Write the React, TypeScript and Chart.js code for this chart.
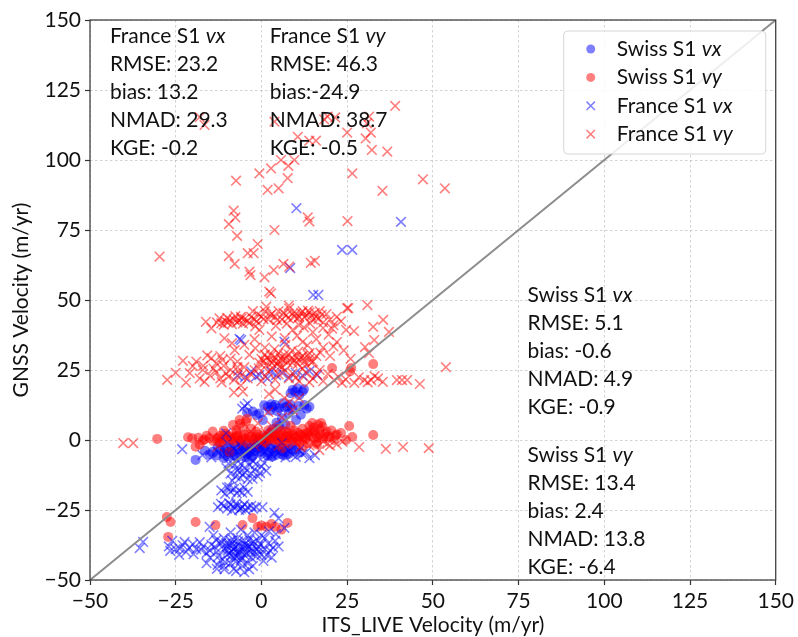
import { useEffect, useRef } from "react";
import { Chart, registerables } from "chart.js";

Chart.register(...registerables);

// Axis extent (m/yr), shared by both axes
const AXIS_MIN = -50;
const AXIS_MAX = 150;
const AXIS_STEP = 25;

const xTitle = "ITS_LIVE Velocity (m/yr)";
const yTitle = "GNSS Velocity (m/yr)";

// [ITS_LIVE, GNSS] velocity pairs, m/yr
const swissVx: [number, number][] = [
  [9.1, 17.9], [12, 17.3], [10.5, 18.5], [8.5, 16.7], [11, 16], [9.8, 17.2], [12.4, 18.1],
  [3.3, 11.9], [6.2, 13.1], [14, 11.9], [1.8, 11.9], [5.2, 11.4], [4, 12.5], [7.5, 12],
  [9, 11], [12.5, 12.5], [2.5, 10.5], [-1.5, 8.9], [-0.6, 9.5], [0.4, 7.1], [10.1, 7.1],
  [11.5, 9], [8, 9.5], [5.2, 4.8], [7, 5.5], [-3, -3], [-5, -4.5], [-4.2, 9.8], [-2.5, 10.2],
  [0.8, 12.4], [2.9, 12.8], [4.6, 10.3], [6.8, 11.6], [8.4, 12.7], [10.8, 12.1], [13.2, 11.2],
  [-14.2, -4.2], [-12, -3.5], [-11, -5], [-10, -4], [-9, -2.5], [-8, -5.5], [-7, -3.5],
  [-6.4, -4.8], [-5.5, -2], [-4, -5], [-3, -1.5], [-2, -4], [-1, -3], [0, -5], [1, -2],
  [2, -4.5], [3, -3], [4, -5.5], [5, -2.5], [6, -4], [7, -3], [8, -5], [9, -2], [10, -3.5],
  [-1, -1], [1.5, -0.5], [-19.2, -7.1], [-11, -6.5], [3, -6], [-6, -1], [-13, -5.5],
  [-9.5, -4.5], [-2.5, -5.5], [6.5, -5.5], [11, -4.5], [-16.5, -3.8], [-15, -5.2],
  [-12.8, -2.6], [-10.6, -3.1], [-8.6, -4.1], [-7.6, -2.2], [-5.2, -3.6], [-4.6, -6.1],
  [-3.4, -4.3], [-1.8, -2.4], [-0.4, -4.2], [0.6, -3.3], [1.8, -5.6], [2.6, -2.2],
  [3.8, -4.1], [4.6, -3.4], [5.8, -5.1], [7.4, -4.4], [8.6, -3.2], [-7.2, -6.3],
  [-9.8, -5.8], [-2.8, -6.2], [0.2, -1.6], [-1.2, -0.2], [1.2, 1.2], [2.4, 2.6], [3.2, 3.8],
  [4.4, 6.2], [6, 7.8], [-4.4, -2.8],
];

const swissVy: [number, number][] = [
  [-30.4, 0.4], [-21.4, 1], [-19.2, -2.4], [-17.1, -0.2], [-15.1, 0.6], [-14.2, 3],
  [-13, 0.5], [-12, 1.5], [-11, 3.3], [-10, 0], [-9, 1], [-8.3, 5.4], [-8, -0.5],
  [-7.4, 3.6], [-7, 1.5], [-6.4, 7.1], [-6, 0], [-5, 2], [-4.5, 6.6], [-4, -1],
  [-3.5, 1], [-3, 4], [-2, 0.5], [-1, 2], [0, 0], [0.5, 1.5], [1, -1], [2, 1],
  [3, 2.5], [3.5, 0], [4, 1.5], [5, -0.5], [5.5, 2], [6, 0.5], [7, 3], [7.5, -1],
  [8, 1.5], [9, 0], [9.5, 3.5], [10, 1], [11, -0.5], [11.5, 2], [12, 4], [13, 0.5],
  [13.5, 2.5], [14, 5], [14.8, 6.1], [15, 1], [15.5, 3], [16, -1], [16.5, 5.5],
  [17.4, 6.1], [17, 2], [18, 0.5], [19, 3], [20, 1], [21.2, 0], [22, 2], [23.2, 2.5],
  [24.7, 0], [25.6, 5], [26.5, 1.1], [32.6, 1.8], [12, -2], [6, -3], [-9.3, -4.3],
  [2, 3.5], [8.5, 5], [-1.5, 3], [4.5, 4], [-11.5, -1], [-16, 1.5],
  [-18.4, 0.8], [-16.6, 0.2], [-14, -0.4], [-12.6, 0.9], [-11.2, 0.3], [-9.6, 1.6],
  [-8.8, 0.2], [-7.8, 0.9], [-6.8, 0.1], [-5.6, 1.1], [-4.8, 0.4], [-3.8, 1.8], [-2.8, 0.2],
  [-1.6, 1.2], [-0.6, 0.6], [0.6, -0.4], [1.4, 0.8], [2.6, 0.1], [3.4, 1.2], [4.4, 0.4],
  [5.2, 1.4], [6.4, -0.2], [7.2, 1.1], [8.2, 0.3], [9.4, 1.7], [10.4, -0.6], [11, 1.2],
  [12.2, 0.9], [12.8, 2.2], [13.8, 1.4], [14.4, 3.3], [15.2, 4.4], [15.8, 2.1], [16.4, 0.6],
  [17, 3.8], [17.8, 4.8], [18.6, 2.2], [19.4, 1.2], [20.4, 3.4], [21.6, 1.6], [16.2, -1.6],
  [13.4, -1.2], [10.6, 2.6], [7.8, 2.4], [5.8, 3.3], [-10.4, 2.2], [-12.2, -0.8],
  [-20.2, 0.6], [-7.2, 2.6], [-6.2, 5.8], [-5.4, 4.6], [-4.2, 7.6], [-18, -1.6],
  [20.6, 25.7], [26.2, 25.7], [32.6, 27.1], [25.8, 24.5],
  [-27.6, -27.5], [-26.5, -29.3], [-19.2, -29.3], [-13.4, -30.4], [-5.5, -30.4],
  [-2.6, -27.9], [-1.1, -31], [1.4, -31], [2.9, -30], [5.8, -32], [7.6, -29.6],
  [-27.2, -34.6], [0, -30.5], [4, -31],
];

const franceVx: [number, number][] = [
  [-27, -38], [-25, -39], [-23, -37.5], [-21, -38.5], [-19, -39], [-17, -38], [-15, -39.5],
  [-26, -36], [-22, -40], [-18, -36.5], [-24, -41], [-20, -37.2], [-16, -40.4],
  [-23.8, -38.8], [-26.6, -39.6], [-19.8, -40.8], [-17.6, -39.2], [-22.4, -36.4],
  [-14, -34], [-13, -40], [-12, -37], [-12, -43], [-11, -35], [-11, -45], [-10, -38],
  [-10, -41], [-9, -33], [-9, -36], [-9, -44], [-8, -39], [-8, -42], [-8, -46], [-7, -35],
  [-7, -37.5], [-7, -40], [-6, -32], [-6, -38], [-6, -43], [-5, -36], [-5, -41], [-4, -34],
  [-4, -39], [-4, -44], [-3, -37], [-3, -42], [-2, -33], [-2, -40], [-1, -36], [-1, -38],
  [0, -41], [1, -35], [1, -39], [2, -37], [3, -42], [4, -36], [5, -38], [-13, -46],
  [-15, -42], [-16, -44], [-11, -39], [-9.5, -40.5], [-8.5, -37], [-7.5, -43.5],
  [-6.5, -40], [-5.5, -45], [-3.5, -35.5], [-2.5, -45], [0, -34], [-15.1, -31],
  [-13.6, -38.2], [-12.4, -41.4], [-11.6, -36.6], [-10.6, -43.6], [-9.8, -39.4],
  [-9.2, -37.8], [-8.8, -41.2], [-8.2, -35.6], [-7.8, -38.4], [-7.2, -41.8], [-6.8, -36.2],
  [-6.2, -39.4], [-5.8, -42.4], [-5.2, -38.6], [-4.8, -37.2], [-4.4, -40.6], [-3.8, -38.2],
  [-3.2, -40.2], [-2.8, -38.8], [-2.2, -36.4], [-1.6, -41.6], [-0.8, -39.8], [-0.2, -37.4],
  [0.6, -43.2], [1.6, -41], [2.6, -39.6], [-10.8, -46.2], [-7.4, -46.8], [-5, -47.2],
  [-12.8, -44.6], [-3.6, -46.2], [4.2, -33.6], [2.2, -32.6], [-14.6, -37.4], [-13.2, -35.8],
  [-10.2, -36.8], [-8.6, -39.8], [-6.6, -41], [-4.2, -37.8], [-1.2, -39], [3.4, -38.4],
  [3.8, -26], [6.7, -31.4], [0.3, -24], [5, -28], [-34.5, -36.4], [-35.5, -38.6],
  [-12.7, -24], [-11, -23.5], [-10, -24.5], [-9, -23], [-8, -24], [-7, -23.5], [-6, -24.5],
  [-5, -23], [-4, -24], [-3, -23.5], [-1.5, -24], [-9.5, -22.5], [-6.5, -25],
  [-11.8, -22.8], [-8.6, -25.2], [-7.4, -22.6], [-5.6, -24], [-4.6, -25], [-2.4, -24.6],
  [-11.7, -18], [-10, -17], [-9, -18.5], [-8, -17.5], [-6.5, -18], [-5, -17], [-4, -18.5],
  [-9.4, -16.8], [-7.2, -19], [-10.6, -19.2], [-5.6, -18.8],
  [-10.2, -10], [-9, -12], [-8, -9], [-7.5, -13], [-7, -11], [-6, -8.5], [-5.5, -12.5],
  [-5, -10], [-4, -14], [-3.5, -9], [-3, -12], [-2, -10.5], [-1, -13], [0, -9.5],
  [1.4, -11], [-8.5, -14.5], [-4.5, -7], [-2.5, -7.5], [-9.6, -8.4], [-6.6, -10.2],
  [-4.8, -11.6], [-1.6, -8.6], [-0.4, -11.8], [-6.2, -13.6], [-2.6, -13.8], [0.8, -8.2],
  [-10, -1], [-8, -3], [-6, -2], [-3, -4], [0, -2], [2, -6], [4, -3], [6, -1], [8, -4],
  [10, -6], [12, -5], [14, -6.5], [-23.1, -3.3], [-17.2, -5.4], [-10.3, 2.4],
  [-12.4, -4.6], [-9, -5.6], [-7, -4.4], [-4.4, -5.8], [-2, -2.6], [1, -4.2], [3, -5.2],
  [5, -4.6], [7, -6.2], [9, -5.2], [11, -3.6], [13, -4.4], [-14.6, -6.2], [15.6, -5.4],
  [-4.9, 12.1], [-4, 13], [-5.6, 11.2],
  [-5.9, 35.7], [6.7, 35.1], [-6.4, 36.1], [16.3, 23.2], [-0.6, 23.2], [1.8, 22],
  [4.3, 23.2], [6, 24], [8, 22.5], [10, 24], [-3, 24.5], [12, 23], [-7, 23], [14, 24.6],
  [2.8, 24.4], [-1.6, 22.6], [-4.8, 22.4],
  [10.2, 82.8], [40.7, 77.9], [23.5, 67.9], [26.5, 67.9], [8.4, 61.4], [15.1, 51.8],
  [16.6, 51.8],
];

const franceVy: [number, number][] = [
  // fast, sparse points
  [19.3, 115.5], [21.5, 115.2], [18.3, 114.5], [39, 119.3], [31.4, 115.5], [30.8, 113.1],
  [25, 109.8], [31.9, 109.8], [30.4, 107.7], [32.2, 103.6], [36.7, 103], [10.6, 108.3],
  [13.95, 106.9], [15.9, 106.9], [3.8, 113.7], [5.7, 100], [9.6, 100], [7.85, 97.9],
  [2.8, 97], [-0.6, 95.2], [-7.4, 92.6], [7.65, 93.5], [1.8, 89.3], [5, 89.9], [26.5, 95.2],
  [47.1, 93.1], [53.5, 89.9], [35.3, 89], [-8.1, 81.9], [-7.6, 79.5], [-9.5, 77.1],
  [-7.1, 72.9], [3.8, 75], [13.5, 79.5], [14, 78], [25.1, 78.2], [-1.1, 70], [-2.3, 66.7],
  [-9.5, 65.7], [-7.8, 62.9], [-29.7, 65.5], [-3.5, 60.1], [-3.2, 58.9], [0.9, 58.1],
  [3.6, 60.7], [6.4, 62.9], [14.4, 63.3], [15.6, 64], [2.3, 53], [-18, 115.3],
  [-16.6, 112.5], [-4, 66.7], [8.1, 61.9], [30.9, 48.2], [25, 47.1], [2.8, 52.4],
  // 40-48 m/yr band
  [-14.6, 39.9], [-13, 42], [-11.7, 41.7], [-10.5, 42.5], [-9.8, 41.9], [-8, 43], [-7, 42],
  [-6, 44], [-4.9, 43.2], [-4, 42.5], [-3, 44], [-2, 43], [-1, 45], [0, 44], [1, 46],
  [1.4, 47.6], [2, 43], [3, 45], [4, 44], [5, 46], [6, 43], [7.2, 44.6], [8.1, 47], [9, 45],
  [10.1, 45.2], [11, 44], [12, 46], [13, 44.5], [14, 45.5], [15, 43], [16, 44], [17, 46],
  [18, 42], [19, 45], [20, 43], [21, 41], [22, 44], [8, 48], [-2.5, 46], [25.3, 47.1],
  [35.5, 42.9], [32.6, 40.4], [24.7, 39.3], [27, 38.9], [-0.6, 39.3], [9.1, 39.3],
  [15, 38.5], [18, 40], [11, 41], [-16.2, 42.2], [-12.2, 43.4], [-11, 41.2], [-10, 43.6],
  [-9.2, 42.8], [-8.6, 41.4], [-7.6, 44.2], [-6.6, 42.6], [-5.4, 41.6], [-5.8, 43.4],
  [-3.6, 41.8], [-1.4, 42.4], [0.6, 43.2], [2.6, 44.6], [4.6, 42.8], [6.4, 45.4],
  [7.8, 43.6], [9.6, 44], [10.6, 43.4], [11.6, 45.4], [12.6, 43.8], [13.6, 46.2],
  [14.6, 44.4], [15.6, 45.4], [16.6, 43.2], [17.6, 44.8], [14.2, 41.6], [12.4, 40.2],
  [20.6, 39.8], [23.2, 42.4], [19.6, 37.6], [-1.8, 40.6], [4.2, 40.8], [7.4, 41.6],
  // 28-38 m/yr band
  [-10.8, 36.3], [-7.8, 32.1], [-3.5, 30.4], [-5, 34], [-2, 36], [1, 33], [3, 37], [5, 31],
  [7, 34], [9, 32], [12, 35], [14, 31], [16, 36], [18, 33], [20, 30], [22, 35], [24, 32],
  [26, 29], [37.2, 38.6], [32.9, 35.7], [31.4, 31], [30.2, 33.2], [-14.6, 29.2],
  [-13.2, 27.4], [-12, 30], [-9, 29], [-7, 28], [2.3, 28.6], [6.2, 28.6], [10.1, 29.8],
  [0, 29], [1, 30.5], [3, 27.5], [4, 29.5], [5, 28], [7, 29], [8, 30.5], [9, 27.5],
  [11, 28.5], [12, 30], [13, 27], [14, 29], [15, 28], [16, 30], [-22.9, 28.3], [-19, 28],
  [-17, 26.5], [-0.6, 27.6], [0.6, 28.2], [1.6, 29.4], [2.8, 30.2], [3.6, 28.2],
  [4.6, 27], [5.6, 29.2], [6.6, 30.4], [7.6, 27.6], [8.6, 29], [9.6, 28.4], [10.6, 27.2],
  [11.6, 29.6], [12.6, 28.2], [13.6, 30.4], [14.6, 27.6], [1.4, 26.6], [5.4, 26.2],
  [10.8, 31.6], [3.8, 32.4], [-1.8, 32.8], [6.8, 36.4], [10.4, 37.2], [13.4, 33.8],
  [17.2, 31.2], [21, 33.4], [-8.6, 34.6], [-11.4, 28.6], [-15.8, 30.2], [-20, 26.4],
  // 20-27 m/yr band
  [-20.9, 23.9], [-17.1, 25], [-16.6, 20.8], [-15, 23], [-14, 25.5], [-12, 22],
  [-10.3, 23.8], [-9, 25], [-8, 21.5], [-6, 23], [-5, 26], [-4, 22], [-2, 25], [0, 21],
  [2, 24.5], [4, 21.5], [6, 26], [8, 22], [9.1, 23.8], [11, 21], [13, 24], [15, 22],
  [17, 25], [18, 21], [21.2, 21.4], [23.5, 20.4], [27.1, 20.4], [30, 21.4], [32, 21.4],
  [34, 22], [39.5, 21.4], [42.5, 21.4], [46.2, 20], [53.8, 26], [41, 21.4], [-25, 24],
  [-27.5, 21.5], [-22, 20.5], [-18, 22], [-11, 26.5], [-7, 26], [-5.4, 17.3],
  [-13.2, 24.2], [-11.6, 20.6], [-9.6, 22.6], [-6.8, 24.6], [-3.2, 23.6], [-0.8, 25.6],
  [1, 22.8], [3.2, 25.8], [5, 23.4], [7, 24.8], [10, 22.2], [12, 25.4], [14, 20.6],
  [16, 23.6], [19.4, 23.6], [22.4, 22.6], [24.6, 21.6], [28.4, 22.4], [31, 20.6],
  [33, 22.8], [35.4, 20.8],
  [6.7, 15], [9.1, 10.7], [-8, 17], [-6, 19.5], [4, 18], [11, 15], [8.2, 13.6], [2.2, 16.4],
  // near-stagnant points
  [-40.3, -1.1], [-37.4, -1.1], [28.5, -2.5], [36.3, -3.2], [41.3, -2.5], [48.8, -2.9],
  [16.9, -3.6], [14, -2], [10, -1], [18, -0.5], [20, -2], [12, 0.5], [8, 2], [22, -1.5],
  [5, -2], [3, 5], [6, 8], [2, 10], [-1, 6], [-3, 3], [0, -1], [15.4, -1.2], [11.4, -2.6],
  [9, 1.4], [7, -1.6], [4, 0.6], [13, 1.8], [17.6, 1.2], [19.2, -1.4], [23.6, -0.6],
  [-2, -2.2], [-5.6, -1.4], [-8.4, 1.2], [1.2, 2.6], [-12.8, -2.4],
];

const legendLabels: [string, string][] = [
  ["Swiss S1 ", "vx"],
  ["Swiss S1 ", "vy"],
  ["France S1 ", "vx"],
  ["France S1 ", "vy"],
];

// Summary statistics printed on the plot
const franceVxStats = ["RMSE: 23.2", "bias: 13.2", "NMAD: 29.3", "KGE: -0.2"];
const franceVyStats = ["RMSE: 46.3", "bias:-24.9", "NMAD: 38.7", "KGE: -0.5"];
const swissVxStats = ["RMSE: 5.1", "bias: -0.6", "NMAD: 4.9", "KGE: -0.9"];
const swissVyStats = ["RMSE: 13.4", "bias: 2.4", "NMAD: 13.8", "KGE: -6.4"];

const FONT = 'Lato, "Open Sans", sans-serif';
const FONT_SIZE = 21;
const BLUE = "rgba(0, 0, 255, 0.5)";
const RED = "rgba(255, 0, 0, 0.5)";
const CIRCLE_R = 5;
const CROSS_R = 6.8;

const toPoints = (pairs: [number, number][]) => pairs.map(([x, y]) => ({ x, y }));

function drawRich(ctx: CanvasRenderingContext2D, x: number, y: number, parts: [string, string]) {
  let cx = x;
  parts.forEach((t, i) => {
    ctx.font = `${i === 1 ? "italic " : ""}${FONT_SIZE}px ${FONT}`;
    ctx.fillText(t, cx, y);
    cx += ctx.measureText(t).width;
  });
}

const overlayPlugin = {
  id: "overlay",
  afterDraw(chart: any) {
    const ctx: CanvasRenderingContext2D = chart.ctx;
    const a = chart.chartArea;
    const w = a.right - a.left;
    const h = a.bottom - a.top;
    ctx.save();

    // frame around the axes
    ctx.strokeStyle = "#333";
    ctx.lineWidth = 1.2;
    ctx.strokeRect(a.left, a.top, w, h);

    ctx.fillStyle = "#111";
    ctx.textBaseline = "middle";
    ctx.textAlign = "left";
    const lineGap = 28;

    const block = (fx: number, fy: number, title: [string, string], lines: string[]) => {
      const x = a.left + fx * w;
      const y = a.top + fy * h;
      drawRich(ctx, x, y, title);
      ctx.font = `${FONT_SIZE}px ${FONT}`;
      lines.forEach((s, i) => ctx.fillText(s, x, y + (i + 1) * lineGap));
    };
    block(0.029, 0.029, legendLabels[2], franceVxStats);
    block(0.262, 0.029, legendLabels[3], franceVyStats);
    block(0.638, 0.491, legendLabels[0], swissVxStats);
    block(0.638, 0.777, legendLabels[1], swissVyStats);

    // legend
    const bw = 202;
    const bh = 123;
    const bx = a.right - 10 - bw;
    const by = a.top + 11;
    ctx.beginPath();
    ctx.roundRect(bx, by, bw, bh, 4);
    ctx.fillStyle = "rgba(255,255,255,0.85)";
    ctx.fill();
    ctx.strokeStyle = "#d6d6d6";
    ctx.lineWidth = 1;
    ctx.stroke();
    const markers = [
      { style: "circle", color: BLUE },
      { style: "circle", color: RED },
      { style: "cross", color: BLUE },
      { style: "cross", color: RED },
    ];
    markers.forEach((m, i) => {
      const mx = bx + 27;
      const my = by + 18 + i * 28.4;
      if (m.style === "circle") {
        ctx.beginPath();
        ctx.arc(mx, my, 4.5, 0, Math.PI * 2);
        ctx.fillStyle = m.color;
        ctx.fill();
      } else {
        const d = 4.2;
        ctx.beginPath();
        ctx.moveTo(mx - d, my - d);
        ctx.lineTo(mx + d, my + d);
        ctx.moveTo(mx - d, my + d);
        ctx.lineTo(mx + d, my - d);
        ctx.strokeStyle = m.color;
        ctx.lineWidth = 1.5;
        ctx.stroke();
      }
      ctx.fillStyle = "#111";
      drawRich(ctx, bx + 53, my, legendLabels[i]);
    });

    // axis titles
    ctx.font = `${FONT_SIZE}px ${FONT}`;
    ctx.fillStyle = "#111";
    ctx.textAlign = "center";
    ctx.fillText(xTitle, (a.left + a.right) / 2, 625);
    ctx.translate(21, (a.top + a.bottom) / 2);
    ctx.rotate(-Math.PI / 2);
    ctx.fillText(yTitle, 0, 0);
    ctx.restore();
  },
};

const tickLabel = (v: number | string) => {
  const n = Number(v);
  return n < 0 ? `\u2212${Math.abs(n)}` : `${n}`;
};

const axisOptions = (fitKey: "width" | "height", fitValue: number) => ({
  type: "linear" as const,
  min: AXIS_MIN,
  max: AXIS_MAX,
  ticks: {
    stepSize: AXIS_STEP,
    callback: tickLabel,
    color: "#111",
    font: { family: FONT, size: FONT_SIZE },
    padding: 4,
    maxRotation: 0,
  },
  grid: {
    color: "rgba(160,160,160,0.6)",
    lineWidth: 0.8,
    tickLength: 5,
    tickColor: "#333",
    tickWidth: 1.2,
    tickBorderDash: [],
  },
  border: { display: false, dash: [2.5, 2.5] },
  afterFit: (s: any) => {
    s[fitKey] = fitValue;
  },
});

export default function App() {
  const ref = useRef<HTMLCanvasElement | null>(null);

  useEffect(() => {
    document.body.style.margin = "0";
    if (!ref.current) return;
    const chart = new Chart(ref.current, {
      type: "scatter",
      data: {
        datasets: [
          {
            type: "line",
            label: "1:1",
            data: [
              { x: AXIS_MIN, y: AXIS_MIN },
              { x: AXIS_MAX, y: AXIS_MAX },
            ],
            borderColor: "#8c8c8c",
            borderWidth: 2,
            pointRadius: 0,
            order: 0,
          } as any,
          {
            label: "France S1 vy",
            data: toPoints(franceVy),
            pointStyle: "crossRot",
            pointRadius: CROSS_R,
            borderColor: RED,
            backgroundColor: RED,
            borderWidth: 1.6,
            order: 1,
          },
          {
            label: "France S1 vx",
            data: toPoints(franceVx),
            pointStyle: "crossRot",
            pointRadius: CROSS_R,
            borderColor: BLUE,
            backgroundColor: BLUE,
            borderWidth: 1.6,
            order: 2,
          },
          {
            label: "Swiss S1 vy",
            data: toPoints(swissVy),
            pointStyle: "circle",
            pointRadius: CIRCLE_R,
            backgroundColor: RED,
            borderWidth: 0,
            order: 3,
          },
          {
            label: "Swiss S1 vx",
            data: toPoints(swissVx),
            pointStyle: "circle",
            pointRadius: CIRCLE_R,
            backgroundColor: BLUE,
            borderWidth: 0,
            order: 4,
          },
        ],
      },
      options: {
        responsive: false,
        animation: false,
        layout: { padding: { top: 20, right: 20, left: 0, bottom: 0 } },
        plugins: { legend: { display: false }, tooltip: { enabled: false } },
        scales: {
          x: axisOptions("height", 57),
          y: axisOptions("width", 90),
        },
      },
      plugins: [overlayPlugin],
    });
    return () => chart.destroy();
  }, []);

  return (
    <div style={{ width: 798, height: 637 }}>
      <canvas ref={ref} width={798} height={637} />
    </div>
  );
}
